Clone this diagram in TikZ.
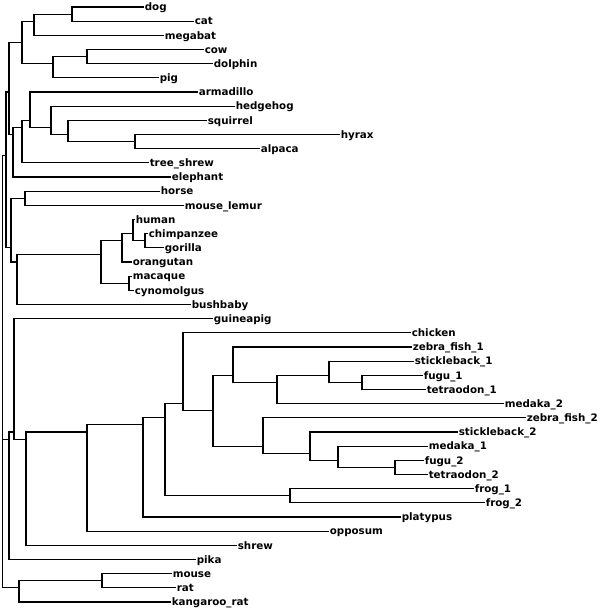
\documentclass[tikz,border=0pt]{standalone}
\usepackage{fontspec}
\setsansfont{DejaVu Sans}

\begin{document}
\begin{tikzpicture}[x=1bp,y=-1bp,line cap=rect,line join=miter,
  branch/.style={line width=1.1bp},
  leaf/.style={anchor=west,inner xsep=1.6bp,inner ysep=0pt,text height=7.5bp,text depth=0pt,
    font=\sffamily\bfseries\fontsize{10.3bp}{12bp}\selectfont}]
\useasboundingbox (0,0) rectangle (600,609);
% internal nodes
\coordinate (root) at (2.7,304.5);
\coordinate (top) at (6,155.8);
\coordinate (boreo) at (9,92.0);
\coordinate (laur) at (22,42.4);
\coordinate (dcm) at (34,21.2);
\coordinate (dc) at (72,14.1);
\coordinate (cdp) at (53,63.7);
\coordinate (cd) at (87,56.6);
\coordinate (ele) at (13,134.5);
\coordinate (ats) at (22,127.4);
\coordinate (arm) at (30,120.3);
\coordinate (hsha) at (51,127.4);
\coordinate (sha) at (68,134.5);
\coordinate (ha) at (135,141.6);
\coordinate (hmp) at (11,247.9);
\coordinate (hm) at (25,198.3);
\coordinate (primb) at (17,262.0);
\coordinate (prim) at (101,254.9);
\coordinate (hcgo) at (122,240.8);
\coordinate (hcg) at (133,233.7);
\coordinate (cg) at (145,240.8);
\coordinate (mc) at (129,283.3);
\coordinate (pk) at (9,439.1);
\coordinate (gp) at (14,432.0);
\coordinate (shr) at (26,439.1);
\coordinate (opp) at (87,432.0);
\coordinate (plat) at (143,424.9);
\coordinate (tetra) at (165,417.8);
\coordinate (frogs) at (290,495.8);
\coordinate (aves) at (183,403.7);
\coordinate (fish) at (213,410.7);
\coordinate (fishA) at (233,375.3);
\coordinate (sm2) at (277,382.4);
\coordinate (sft1) at (329,375.3);
\coordinate (ft1) at (362,382.4);
\coordinate (fishB) at (263,446.2);
\coordinate (smft2) at (310,453.3);
\coordinate (mft2) at (338,460.3);
\coordinate (ft2) at (395,467.4);
\coordinate (mrk) at (19,587.9);
\coordinate (mr) at (102,580.8);
% leaves
\node[leaf] (dog) at (143,7.0) {dog};
\node[leaf] (cat) at (193,21.2) {cat};
\node[leaf] (megabat) at (163,35.3) {megabat};
\node[leaf] (cow) at (203,49.5) {cow};
\node[leaf] (dolphin) at (212,63.7) {dolphin};
\node[leaf] (pig) at (158,77.8) {pig};
\node[leaf] (armadillo) at (197,92.0) {armadillo};
\node[leaf] (hedgehog) at (234,106.2) {hedgehog};
\node[leaf] (squirrel) at (206,120.3) {squirrel};
\node[leaf] (hyrax) at (339,134.5) {hyrax};
\node[leaf] (alpaca) at (259,148.7) {alpaca};
\node[leaf] (treeshrew) at (148,162.8) {tree\_shrew};
\node[leaf] (elephant) at (170,177.0) {elephant};
\node[leaf] (horse) at (159,191.2) {horse};
\node[leaf] (mouselemur) at (183,205.3) {mouse\_lemur};
\node[leaf] (human) at (134,219.5) {human};
\node[leaf] (chimpanzee) at (147,233.7) {chimpanzee};
\node[leaf] (gorilla) at (163,247.8) {gorilla};
\node[leaf] (orangutan) at (131,262.0) {orangutan};
\node[leaf] (macaque) at (131,276.2) {macaque};
\node[leaf] (cynomolgus) at (133,290.3) {cynomolgus};
\node[leaf] (bushbaby) at (190,304.5) {bushbaby};
\node[leaf] (guineapig) at (212,318.7) {guineapig};
\node[leaf] (chicken) at (410,332.8) {chicken};
\node[leaf] (zebrafishA) at (411,347.0) {zebra\_fish\_1};
\node[leaf] (sticklebackA) at (413,361.2) {stickleback\_1};
\node[leaf] (fuguA) at (422,375.3) {fugu\_1};
\node[leaf] (tetraodonA) at (425,389.5) {tetraodon\_1};
\node[leaf] (medakaB) at (503,403.7) {medaka\_2};
\node[leaf] (zebrafishB) at (525,417.8) {zebra\_fish\_2};
\node[leaf] (sticklebackB) at (457,432.0) {stickleback\_2};
\node[leaf] (medakaA) at (427,446.2) {medaka\_1};
\node[leaf] (fuguB) at (423,460.3) {fugu\_2};
\node[leaf] (tetraodonB) at (427,474.5) {tetraodon\_2};
\node[leaf] (frogA) at (473,488.7) {frog\_1};
\node[leaf] (frogB) at (484,502.8) {frog\_2};
\node[leaf] (platypus) at (400,517.0) {platypus};
\node[leaf] (opposum) at (328,531.2) {opposum};
\node[leaf] (shrew) at (236,545.3) {shrew};
\node[leaf] (pika) at (195,559.5) {pika};
\node[leaf] (mouse) at (171,573.7) {mouse};
\node[leaf] (rat) at (175,587.8) {rat};
\node[leaf] (kangaroorat) at (170,602.0) {kangaroo\_rat};
% branches
\draw[branch] (root) |- (top);
\draw[branch] (root) |- (pk);
\draw[branch] (root) |- (mrk);
\draw[branch] (top) |- (boreo);
\draw[branch] (top) |- (hmp);
\draw[branch] (boreo) |- (laur);
\draw[branch] (boreo) |- (ele);
\draw[branch] (laur) |- (dcm);
\draw[branch] (laur) |- (cdp);
\draw[branch] (dcm) |- (dc);
\draw[branch] (dcm) |- (megabat.west);
\draw[branch] (dc) |- (dog.west);
\draw[branch] (dc) |- (cat.west);
\draw[branch] (cdp) |- (cd);
\draw[branch] (cdp) |- (pig.west);
\draw[branch] (cd) |- (cow.west);
\draw[branch] (cd) |- (dolphin.west);
\draw[branch] (ele) |- (ats);
\draw[branch] (ele) |- (elephant.west);
\draw[branch] (ats) |- (arm);
\draw[branch] (ats) |- (treeshrew.west);
\draw[branch] (arm) |- (armadillo.west);
\draw[branch] (arm) |- (hsha);
\draw[branch] (hsha) |- (hedgehog.west);
\draw[branch] (hsha) |- (sha);
\draw[branch] (sha) |- (squirrel.west);
\draw[branch] (sha) |- (ha);
\draw[branch] (ha) |- (hyrax.west);
\draw[branch] (ha) |- (alpaca.west);
\draw[branch] (hmp) |- (hm);
\draw[branch] (hmp) |- (primb);
\draw[branch] (hm) |- (horse.west);
\draw[branch] (hm) |- (mouselemur.west);
\draw[branch] (primb) |- (prim);
\draw[branch] (primb) |- (bushbaby.west);
\draw[branch] (prim) |- (hcgo);
\draw[branch] (prim) |- (mc);
\draw[branch] (hcgo) |- (hcg);
\draw[branch] (hcgo) |- (orangutan.west);
\draw[branch] (hcg) |- (human.west);
\draw[branch] (hcg) |- (cg);
\draw[branch] (cg) |- (chimpanzee.west);
\draw[branch] (cg) |- (gorilla.west);
\draw[branch] (mc) |- (macaque.west);
\draw[branch] (mc) |- (cynomolgus.west);
\draw[branch] (pk) |- (gp);
\draw[branch] (pk) |- (pika.west);
\draw[branch] (gp) |- (guineapig.west);
\draw[branch] (gp) |- (shr);
\draw[branch] (shr) |- (opp);
\draw[branch] (shr) |- (shrew.west);
\draw[branch] (opp) |- (plat);
\draw[branch] (opp) |- (opposum.west);
\draw[branch] (plat) |- (tetra);
\draw[branch] (plat) |- (platypus.west);
\draw[branch] (tetra) |- (aves);
\draw[branch] (tetra) |- (frogs);
\draw[branch] (frogs) |- (frogA.west);
\draw[branch] (frogs) |- (frogB.west);
\draw[branch] (aves) |- (chicken.west);
\draw[branch] (aves) |- (fish);
\draw[branch] (fish) |- (fishA);
\draw[branch] (fish) |- (fishB);
\draw[branch] (fishA) |- (zebrafishA.west);
\draw[branch] (fishA) |- (sm2);
\draw[branch] (sm2) |- (sft1);
\draw[branch] (sm2) |- (medakaB.west);
\draw[branch] (sft1) |- (sticklebackA.west);
\draw[branch] (sft1) |- (ft1);
\draw[branch] (ft1) |- (fuguA.west);
\draw[branch] (ft1) |- (tetraodonA.west);
\draw[branch] (fishB) |- (zebrafishB.west);
\draw[branch] (fishB) |- (smft2);
\draw[branch] (smft2) |- (sticklebackB.west);
\draw[branch] (smft2) |- (mft2);
\draw[branch] (mft2) |- (medakaA.west);
\draw[branch] (mft2) |- (ft2);
\draw[branch] (ft2) |- (fuguB.west);
\draw[branch] (ft2) |- (tetraodonB.west);
\draw[branch] (mrk) |- (mr);
\draw[branch] (mrk) |- (kangaroorat.west);
\draw[branch] (mr) |- (mouse.west);
\draw[branch] (mr) |- (rat.west);
\end{tikzpicture}
\end{document}
